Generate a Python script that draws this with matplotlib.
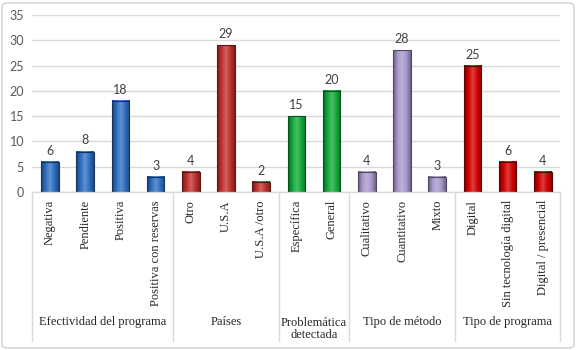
import matplotlib
matplotlib.use("Agg")
import matplotlib.pyplot as plt
import numpy as np
from matplotlib.colors import LinearSegmentedColormap, to_rgb
from matplotlib.transforms import blended_transform_factory
from matplotlib.patches import FancyBboxPatch

categories = ["Negativa", "Pendiente", "Positiva", "Positiva con reservas",
              "Otro", "U.S.A", "U.S.A /otro",
              "Específica", "General",
              "Cualitativo", "Cuantitativo", "Mixto",
              "Digital", "Sin tecnología digital", "Digital / presencial"]
values = [6, 8, 18, 3, 4, 29, 2, 15, 20, 4, 28, 3, 25, 6, 4]
groups = ["Efectividad del programa", "Países", "Problemática\ndetectada",
          "Tipo de método", "Tipo de programa"]
group_sizes = [4, 3, 2, 3, 3]
group_colors = ["#2D6EC0", "#C0302C", "#10AA3A", "#A898CC", "#D00000"]
yticks = [0, 5, 10, 15, 20, 25, 30, 35]

fig = plt.figure(figsize=(5.76, 3.5), dpi=100)
ax = fig.add_axes([32.4 / 576, 1 - 192 / 350, (560.4 - 32.4) / 576, (192 - 15) / 350])

bar_colors = []
for c, n in zip(group_colors, group_sizes):
    bar_colors += [c] * n

x = np.arange(len(categories))
w = 0.5
ax.set_xlim(-0.5, len(categories) - 0.5)
ax.set_ylim(0, 35)
ax.set_yticks(yticks)
ax.grid(axis="y", color="#D9D9D9", linewidth=1)
ax.set_axisbelow(True)
for s in ax.spines.values():
    s.set_visible(False)

grad = np.linspace(0, 1, 64)
for xi, v, col in zip(x, values, bar_colors):
    base = np.array(to_rgb(col))
    dark = base * 0.6
    light = np.clip(base + (1 - base) * 0.25, 0, 1)
    cmap = LinearSegmentedColormap.from_list("g", [dark, base, light, base, dark * 1.1])
    ax.imshow(grad[np.newaxis, :], extent=(xi - w / 2, xi + w / 2, 0, v),
              aspect="auto", cmap=cmap, zorder=2, interpolation="bilinear")
    ax.add_patch(plt.Rectangle((xi - w / 2, 0), w, v, fill=False,
                               edgecolor=dark * 0.8, linewidth=0.8, zorder=3))
    ax.text(xi, v + 1.0, str(v), ha="center", va="bottom", fontsize=9,
            color="#404040", family="Lato")

ax.set_xlim(-0.5, len(categories) - 0.5)
ax.set_ylim(0, 35)

ax.set_xticks(x)
ax.set_xticklabels([])
ax.tick_params(axis="x", length=0)
ax.tick_params(axis="y", length=0, labelsize=9, labelcolor="#595959", pad=6)
for lab in ax.get_yticklabels():
    lab.set_family("Lato")

tr = blended_transform_factory(ax.transData, fig.transFigure)
y_top = 1 - 200 / 350
for xi, cat in zip(x, categories):
    ax.text(xi, y_top, cat, rotation=90, ha="center", va="top", fontsize=9,
            family="Liberation Serif", color="#262626", transform=tr)

# separators
bounds = np.concatenate([[0], np.cumsum(group_sizes)]) - 0.5
y_bot = 1 - 341 / 350
for b in bounds:
    ax.plot([b, b], [1 - 192 / 350, y_bot], color="#D9D9D9", linewidth=1,
            transform=tr, clip_on=False)
ax.plot([-0.5, len(categories) - 0.5], [1 - 192 / 350] * 2, color="#D9D9D9",
        linewidth=1, transform=tr, clip_on=False)

for i, g in enumerate(groups):
    center = (bounds[i] + bounds[i + 1]) / 2
    if "\n" in g:
        ax.text(center, 1 - 329 / 350, g, ha="center", va="center", fontsize=9,
                family="Liberation Serif", color="#262626", transform=tr,
                linespacing=1.1)
    else:
        ax.text(center, 1 - 322 / 350, g, ha="center", va="center", fontsize=9,
                family="Liberation Serif", color="#262626", transform=tr)

border = FancyBboxPatch((2 / 576, 2 / 350), 572 / 576, 345 / 350,
                        boxstyle="round,pad=0,rounding_size=0.01",
                        transform=fig.transFigure, fill=False,
                        edgecolor="#D0D0D0", linewidth=1)
fig.patches.append(border)

fig.savefig("out.png", dpi=100)
